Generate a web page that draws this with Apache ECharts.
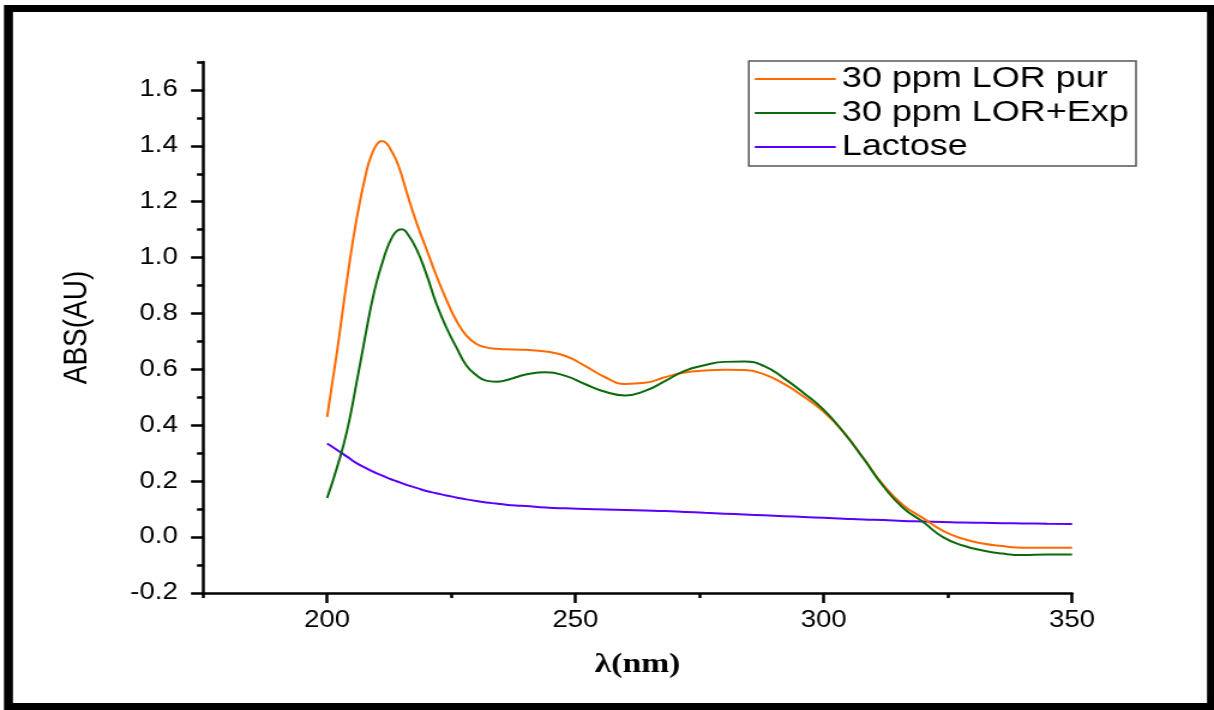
<!DOCTYPE html>
<html>
<head>
<meta charset="utf-8">
<script src="https://cdn.jsdelivr.net/npm/echarts@6/dist/echarts.min.js"></script>
<style>
html,body{margin:0;padding:0;background:#fff;overflow:hidden;}
#wrap{width:1214px;height:710px;overflow:hidden;position:relative;}
#c{width:1012px;height:710px;transform:scaleX(1.19960);transform-origin:0 0;}
</style>
</head>
<body>
<div id="wrap"><div id="c"></div></div>
<script>
// Wavelength (nm)
const wavelength = [200,202,204,206,208,209,210,211,212,213,214,215,216,218,220,222,224,226,228,230,232,234,236,238,240,244,248,252,256,260,264,268,272,276,280,284,288,292,296,300,304,308,312,316,320,324,328,332,336,340,345,350];
// 30 ppm LOR pur
const lorPur = [0.43,0.665,0.92,1.145,1.315,1.37,1.405,1.417,1.408,1.38,1.345,1.295,1.235,1.125,1.03,0.935,0.85,0.775,0.722,0.692,0.679,0.674,0.672,0.671,0.670,0.664,0.648,0.612,0.572,0.548,0.552,0.572,0.589,0.596,0.599,0.598,0.582,0.548,0.502,0.448,0.375,0.282,0.186,0.114,0.068,0.022,-0.006,-0.023,-0.032,-0.038,-0.038,-0.038];
// 30 ppm LOR+Exp
const lorExp = [0.14,0.25,0.38,0.56,0.75,0.84,0.915,0.975,1.03,1.07,1.095,1.102,1.09,1.03,0.94,0.835,0.75,0.68,0.615,0.58,0.560,0.556,0.561,0.572,0.582,0.590,0.577,0.547,0.52,0.507,0.523,0.558,0.595,0.615,0.627,0.628,0.612,0.568,0.515,0.455,0.375,0.281,0.182,0.104,0.054,0.0,-0.03,-0.048,-0.059,-0.064,-0.062,-0.062];
// Lactose
const lactose = [0.335,0.312,0.288,0.264,0.245,0.236,0.228,0.221,0.213,0.206,0.200,0.193,0.187,0.176,0.165,0.157,0.149,0.142,0.135,0.129,0.124,0.120,0.116,0.113,0.111,0.106,0.103,0.101,0.099,0.097,0.095,0.093,0.090,0.087,0.084,0.081,0.078,0.075,0.072,0.069,0.066,0.063,0.061,0.058,0.056,0.054,0.052,0.051,0.050,0.049,0.048,0.047];

const seriesNames = ['30 ppm LOR pur','30 ppm LOR+Exp','Lactose'];
const xMajorTicks = [200,250,300,350];
const xMinorTicks = [175,225,275,325];
const yMajorTicks = [-0.2,0,0.2,0.4,0.6,0.8,1.0,1.2,1.4,1.6];
const yMinorTicks = [-0.1,0.1,0.3,0.5,0.7,0.9,1.1,1.3,1.5,1.7];

const pairs = arr => wavelength.map((w,i)=>[w,arr[i]]);
const FONT = 'Liberation Sans';

const chart = echarts.init(document.getElementById('c'), null, {renderer:'canvas'});
const axisLineStyle = {color:'#000', width:2.5};
chart.setOption({
  backgroundColor:'#fff',
  animation:false,
  graphic:[
    {type:'rect', shape:{x:3.3,y:5,width:1008.7,height:705}, style:{fill:'#000'}, silent:true, z:-10},
    {type:'rect', shape:{x:10.8,y:12,width:995.4,height:691}, style:{fill:'#fff'}, silent:true, z:-9}
  ],
  grid:{left:169.2, right:118.3, top:62, bottom:117, containLabel:false},
  legend:{
    left:624.2, top:61, orient:'vertical', align:'left',
    padding:[3,6,4,5], itemGap:4, itemWidth:67.5, itemHeight:2, icon:'rect',
    borderColor:'#555', borderWidth:1.5, backgroundColor:'#fff',
    textStyle:{fontFamily:FONT, fontSize:30, color:'#000', lineHeight:30},
    data:seriesNames
  },
  xAxis:[{
    type:'value', min:175, max:350, position:'bottom',
    name:'λ(nm)', nameLocation:'middle', nameGap:58,
    nameTextStyle:{fontFamily:'Liberation Serif', fontWeight:'bold', fontSize:28, color:'#000'},
    axisLine:{show:true, onZero:false, lineStyle:axisLineStyle},
    axisTick:{show:true, customValues:xMajorTicks, length:10, inside:false, lineStyle:{color:'#000', width:2.5}},
    axisLabel:{show:true, customValues:xMajorTicks, margin:16, fontFamily:FONT, fontSize:23, color:'#000'},
    splitLine:{show:false}
  },{
    type:'value', min:175, max:350, position:'bottom',
    axisLine:{show:false, onZero:false},
    axisTick:{show:true, customValues:xMinorTicks, length:5, lineStyle:{color:'#000', width:2.5}},
    axisLabel:{show:false},
    splitLine:{show:false}
  }],
  yAxis:[{
    type:'value', min:-0.2, max:1.7, position:'left',
    name:'ABS(AU)', nameLocation:'middle', nameGap:91, nameRotate:90,
    nameTextStyle:{fontFamily:FONT, fontSize:28, color:'#000'},
    axisLine:{show:true, onZero:false, lineStyle:axisLineStyle},
    axisTick:{show:true, customValues:yMajorTicks, length:10, lineStyle:{color:'#000', width:2.5}},
    axisLabel:{show:true, customValues:yMajorTicks, margin:21, fontFamily:FONT, fontSize:23, color:'#000',
      formatter:v=>Number(v).toFixed(1)},
    splitLine:{show:false}
  },{
    type:'value', min:-0.2, max:1.7, position:'left',
    axisLine:{show:false, onZero:false},
    axisTick:{show:true, customValues:yMinorTicks, length:5, lineStyle:{color:'#000', width:2.5}},
    axisLabel:{show:false},
    splitLine:{show:false}
  }],
  series:[
    {name:seriesNames[0], type:'line', data:pairs(lorPur), smooth:0.5, symbol:'none', showSymbol:false, lineStyle:{color:'#FF6A00', width:2}, itemStyle:{color:'#FF6A00'}, z:3},
    {name:seriesNames[1], type:'line', data:pairs(lorExp), smooth:0.5, symbol:'none', showSymbol:false, lineStyle:{color:'#0B6A0B', width:2}, itemStyle:{color:'#0B6A0B'}, z:4},
    {name:seriesNames[2], type:'line', data:pairs(lactose), smooth:0.5, symbol:'none', showSymbol:false, lineStyle:{color:'#5A00FF', width:2}, itemStyle:{color:'#5A00FF'}, z:2}
  ]
});
</script>
</body>
</html>
